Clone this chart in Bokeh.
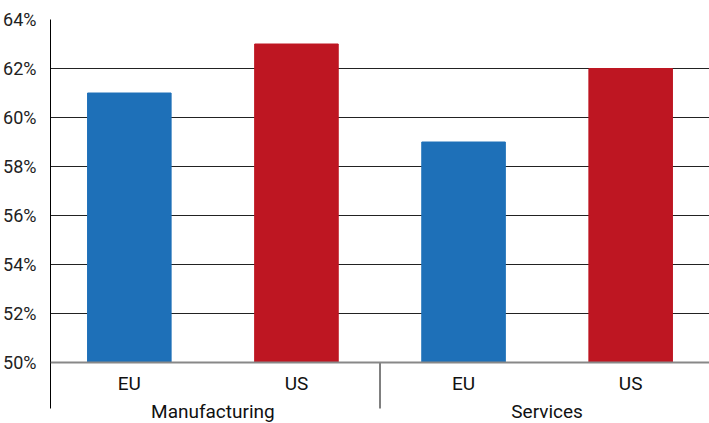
from bokeh.plotting import figure
from bokeh.models import FactorRange, ColumnDataSource, FixedTicker, CustomJSTickFormatter, Range1d, Span
from bokeh.core.properties import value
from bokeh.embed import file_html
from bokeh.resources import INLINE

groups = ["Manufacturing", "Services"]
regions = ["EU", "US"]
values = [61, 63, 59, 62]
colors_map = {"EU": "#1e70b8", "US": "#be1622"}
y_ticks = [50, 52, 54, 56, 58, 60, 62, 64]
y_base = 50
y_top = 64

factors = [(g, r) for g in groups for r in regions]
src = ColumnDataSource(dict(x=factors, top=values,
                            color=[colors_map[r] for g, r in factors]))

# frame: 64 at 19px, 50 at 362px -> extend range below so axis labels live inside the frame
px_per_unit = (362 - 19) / (y_top - y_base)
y_low = y_base - (423 - 362) / px_per_unit
axis_low = y_base - (408 - 362) / px_per_unit

fpad = 0.06
gpad = 0.06
p = figure(width=709, height=423, output_backend="svg", toolbar_location=None,
           x_range=FactorRange(*factors, range_padding=0, group_padding=gpad, factor_padding=fpad),
           y_range=Range1d(y_low, y_top),
           min_border_left=49, min_border_right=0, min_border_top=19, min_border_bottom=0)
p.outline_line_color = None
p.vbar(x="x", top="top", bottom=y_base, width=0.53, color="color", source=src)

p.yaxis.ticker = FixedTicker(ticks=y_ticks)
p.yaxis.formatter = CustomJSTickFormatter(code="return tick + '%'")
p.yaxis.bounds = (axis_low, y_top)
p.yaxis.major_tick_line_color = None
p.yaxis.minor_tick_line_color = None
p.yaxis.axis_line_color = "black"
p.yaxis.major_label_text_font = "Roboto"
p.yaxis.major_label_text_font_size = "18px"
p.yaxis.major_label_text_color = "#222222"
p.yaxis.major_label_standoff = 8

p.ygrid.grid_line_color = "#222222"
p.ygrid.grid_line_width = 1
p.xgrid.grid_line_color = None
p.xaxis.visible = False

# baseline (category axis line)
p.add_layout(Span(location=y_base, dimension="width", line_color="#888888", line_width=2))

# separator between the two groups (synthetic coordinate of the group boundary)
sep_x = len(regions) + fpad * (len(regions) - 1) + gpad / 2
p.segment(x0=[sep_x], y0=[y_base], x1=[sep_x], y1=[axis_low], line_color="black", line_width=1)

# category labels
p.text(x=factors, y=[y_base] * len(factors), text=[r for g, r in factors],
       text_font=value("Roboto"), text_font_size="19px", text_color="#111111",
       text_align="center", text_baseline="middle", y_offset=21)
p.text(x=groups, y=[y_base] * len(groups), text=groups,
       text_font=value("Roboto"), text_font_size="19px", text_color="#111111",
       text_align="center", text_baseline="middle", y_offset=49)

open("out.html", "w").write(file_html(p, INLINE))
